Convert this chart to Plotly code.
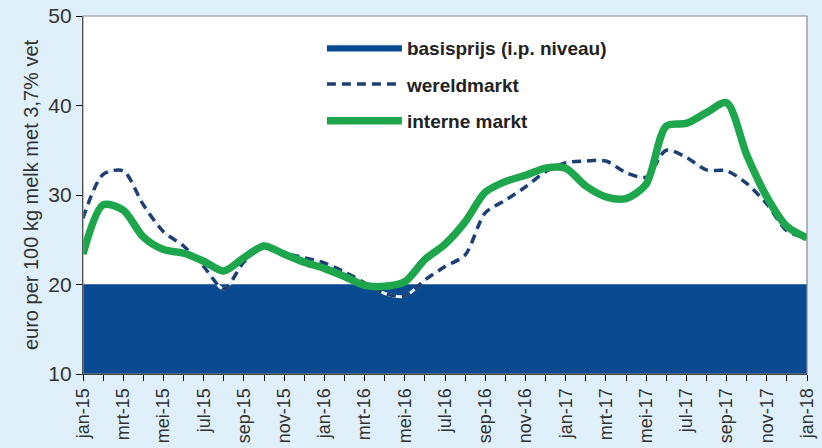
import plotly.graph_objects as go

maanden = ["jan", "feb", "mrt", "apr", "mei", "jun", "jul", "aug", "sep", "okt", "nov", "dec"]
labels = [f"{maanden[i % 12]}-{15 + i // 12}" for i in range(37)]
x_idx = list(range(37))

basisprijs = [20.0] * 37

wereldmarkt = [27.4, 32.3, 32.7, 28.9, 25.9, 24.3, 22.0, 19.5, 22.5, 24.3, 23.5, 23.0,
               22.4, 21.4, 20.2, 19.0, 18.7, 20.5, 22.0, 23.3, 28.0, 29.4, 30.9, 32.6,
               33.6, 33.8, 33.8, 32.5, 32.0, 35.0, 34.2, 32.8, 32.7, 31.3, 29.0, 26.0, 25.2]

interne_markt = [23.4, 28.9, 28.3, 25.3, 23.9, 23.5, 22.6, 21.5, 23.0, 24.3, 23.4, 22.5,
                 21.8, 20.9, 19.9, 19.8, 20.3, 22.8, 24.5, 27.0, 30.3, 31.5, 32.2, 33.0,
                 33.0, 31.0, 29.8, 29.6, 31.2, 37.7, 38.0, 39.2, 40.3, 34.5, 29.8, 26.5, 25.2]

tick_idx = x_idx[::2]
tick_txt = labels[::2]

NAVY = "#0a4a90"
DASH = "#1f3f72"
GREEN = "#1ea64c"
BG = "#dff0fb"
FONT = "Liberation Sans, Arial, sans-serif"

fig = go.Figure()

fig.add_trace(go.Scatter(
    x=x_idx, y=basisprijs, name="basisprijs (i.p. niveau)", mode="lines",
    fill="tozeroy", fillcolor=NAVY, line=dict(color=NAVY, width=0.5),
    legendgroup="a", hoverinfo="skip"))

fig.add_trace(go.Scatter(
    x=x_idx, y=wereldmarkt, mode="lines", showlegend=False,
    line=dict(color="#e8f2fb", width=3, shape="spline", smoothing=0.8),
    hoverinfo="skip"))

fig.add_trace(go.Scatter(
    x=x_idx, y=wereldmarkt, name="wereldmarkt", mode="lines",
    line=dict(color=DASH, width=3.5, dash="9px,6px", shape="spline", smoothing=0.8),
    legendgroup="b"))

fig.add_trace(go.Scatter(
    x=x_idx, y=interne_markt, name="interne markt", mode="lines",
    line=dict(color=GREEN, width=7.5, shape="spline", smoothing=0.8),
    legendgroup="c"))

fig.update_layout(
    width=822, height=448,
    margin=dict(l=83, r=15, t=16, b=74),
    paper_bgcolor=BG,
    plot_bgcolor="white",
    font=dict(family=FONT, color="#333333"),
    showlegend=True,
    legend=dict(
        x=0.33, y=0.965, xanchor="left", yanchor="top",
        bgcolor="rgba(0,0,0,0)",
        font=dict(size=19, color="#222222", family=FONT, weight="bold"),
        itemwidth=75, tracegroupgap=9, traceorder="grouped",
    ),
    shapes=[dict(type="rect", xref="paper", yref="paper", x0=0, x1=1, y0=0, y1=1,
                 line=dict(color="#8a8a8a", width=1.2), layer="above")],
)

fig.update_xaxes(
    range=[0, 36], tickmode="array", tickvals=tick_idx, ticktext=tick_txt,
    tickangle=-90, tickfont=dict(size=18, color="#333333"),
    ticks="outside", ticklen=6, tickcolor="black",
    minor=dict(tickmode="array", tickvals=x_idx, ticks="outside", ticklen=6, tickcolor="black"),
    showline=True, linecolor="black", linewidth=1.2, showgrid=False, zeroline=False,
    automargin=False,
)

fig.update_yaxes(
    range=[10, 50], tickvals=[10, 20, 30, 40, 50],
    tickfont=dict(size=21, color="#333333"),
    ticks="outside", ticklen=6, tickcolor="black",
    showline=True, linecolor="black", linewidth=1.2, showgrid=False, zeroline=False,
    automargin=False,
    title=dict(text="euro per 100 kg melk met 3,7% vet", font=dict(size=20, color="#333333"), standoff=4),
)

fig.write_html(
    "out.html",
    config={"displayModeBar": False},
    post_script="document.body.style.margin='0';document.body.style.background='" + BG + "';",
)
